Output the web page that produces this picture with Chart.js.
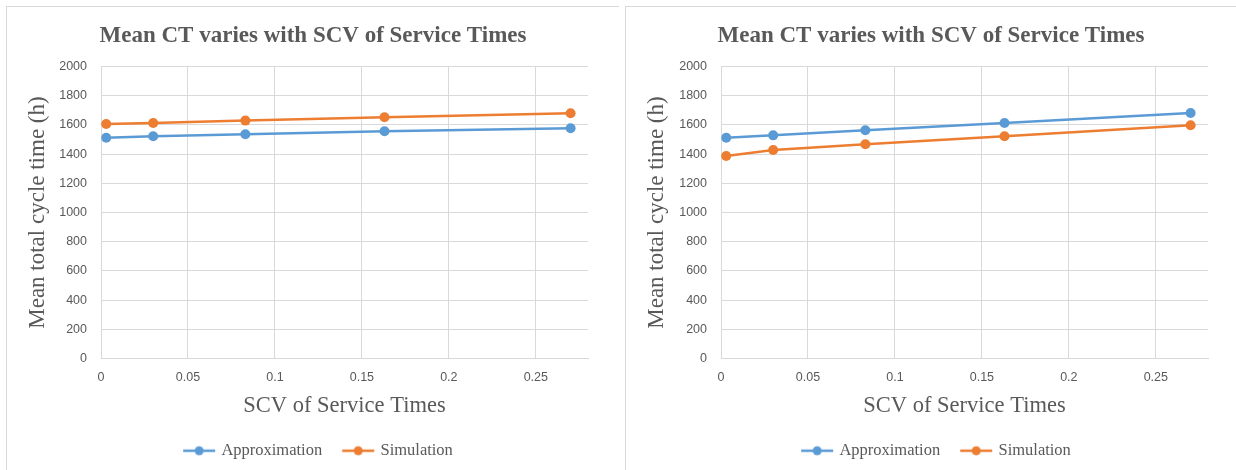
<!DOCTYPE html>
<html>
<head>
<meta charset="utf-8">
<script src="https://cdn.jsdelivr.net/npm/chart.js@4"></script>
<style>
  body { margin: 0; background: #fff; width: 1236px; height: 470px; overflow: hidden; position: relative; }
  .panel { position: absolute; top: 6px; height: 464px; border-left: 1px solid #d9d9d9; border-top: 1px solid #d9d9d9; }
  #leftPanel { left: 6px; width: 612px; }
  #rightPanel { left: 625px; width: 610px; }
</style>
</head>
<body>
<div class="panel" id="leftPanel"><canvas id="leftChart"></canvas></div>
<div class="panel" id="rightPanel"><canvas id="rightChart"></canvas></div>
<script>
// SCV of service times (x values, shared by both charts)
const scvValues = [0.003, 0.03, 0.083, 0.163, 0.27];

// left chart
const leftApproximation = [1513, 1523, 1536, 1557, 1577];
const leftSimulation = [1607, 1613, 1630, 1653, 1680];

// right chart
const rightApproximation = [1513, 1529, 1564, 1614, 1682];
const rightSimulation = [1387, 1429, 1468, 1523, 1598];

const seriesNames = ['Approximation', 'Simulation'];
const xTickStep = 0.05;
const xMax = 0.28;
const yTickStep = 200;
const yMax = 2000;

const chartTitle = 'Mean CT varies with SCV of Service Times';
const xTitle = 'SCV of Service Times';
const yTitle = 'Mean total cycle time (h)';

const blue = '#5b9bd5';
const orange = '#ed7d31';
const textGray = '#595959';
const gridGray = '#d9d9d9';

Chart.defaults.animation = false;

// line-with-dot marker for the legend; blank strip on the left spaces the items apart
function legendMarker(color) {
  const c = document.createElement('canvas');
  c.width = 48;
  c.height = 12;
  const g = c.getContext('2d');
  g.strokeStyle = color;
  g.lineWidth = 2.5;
  g.beginPath();
  g.moveTo(14, 6);
  g.lineTo(46, 6);
  g.stroke();
  g.fillStyle = color;
  g.beginPath();
  g.arc(30, 6, 4.5, 0, Math.PI * 2);
  g.fill();
  return c;
}
const markers = [legendMarker(blue), legendMarker(orange)];

function toPoints(values) {
  return scvValues.map((x, i) => ({ x: x, y: values[i] }));
}

function makeChart(canvasId, approx, sim, yAxisWidth, rightSpace) {
  return new Chart(document.getElementById(canvasId), {
    type: 'line',
    data: {
      datasets: [{
        label: seriesNames[0],
        data: toPoints(approx),
        borderColor: blue,
        backgroundColor: blue,
        borderWidth: 2.5,
        pointRadius: 5,
        pointBorderWidth: 0,
        tension: 0,
      }, {
        label: seriesNames[1],
        data: toPoints(sim),
        borderColor: orange,
        backgroundColor: orange,
        borderWidth: 2.5,
        pointRadius: 5,
        pointBorderWidth: 0,
        tension: 0,
      }]
    },
    options: {
      responsive: true,
      maintainAspectRatio: false,
      layout: {
        padding: { left: 0, right: 0, top: 0, bottom: 2 }
      },
      plugins: {
        title: {
          display: true,
          text: chartTitle,
          color: textGray,
          font: { family: 'Liberation Serif', size: 23, weight: 'bold' },
          padding: { top: 15, bottom: 17 }
        },
        legend: {
          position: 'bottom',
          labels: {
            color: textGray,
            font: { family: 'Liberation Serif', size: 16.5 },
            usePointStyle: true,
            pointStyleWidth: 40,
            boxHeight: 16,
            padding: 10,
            generateLabels: (chart) => {
              const items = Chart.defaults.plugins.legend.labels.generateLabels(chart);
              items.forEach((item, i) => { item.pointStyle = markers[i]; });
              return items;
            }
          }
        },
        tooltip: { enabled: false }
      },
      scales: {
        x: {
          type: 'linear',
          min: 0,
          max: xMax,
          afterBuildTicks: (axis) => {
            axis.ticks = axis.ticks.filter(t => Math.abs(t.value / xTickStep - Math.round(t.value / xTickStep)) < 1e-6);
          },
          afterFit: (scale) => { scale.height = 74; },
          ticks: {
            stepSize: xTickStep,
            color: textGray,
            font: { family: 'Liberation Sans', size: 12.5 },
            padding: 12,
            callback: (v) => String(Number(v.toFixed(3)))
          },
          grid: { color: gridGray, drawTicks: false },
          border: { color: gridGray },
          title: {
            display: true,
            text: xTitle,
            color: textGray,
            font: { family: 'Liberation Serif', size: 22.5 },
            padding: { top: 4, bottom: 13 }
          }
        },
        y: {
          min: 0,
          max: yMax,
          afterFit: (scale) => { scale.width = yAxisWidth; },
          ticks: {
            stepSize: yTickStep,
            color: textGray,
            font: { family: 'Liberation Sans', size: 12.5 },
            padding: 14,
            callback: (v) => String(v)
          },
          grid: { color: gridGray, drawTicks: false },
          border: { display: false },
          title: {
            display: true,
            text: yTitle,
            color: textGray,
            font: { family: 'Liberation Serif', size: 23 },
            padding: { top: 17, bottom: 0 }
          }
        },
        // empty right-hand axis that only reserves the space right of the plot
        yRight: {
          position: 'right',
          afterFit: (scale) => { scale.width = rightSpace; },
          ticks: { display: false },
          grid: { display: false, drawTicks: false },
          border: { display: false }
        }
      }
    }
  });
}

makeChart('leftChart', leftApproximation, leftSimulation, 94, 31);
makeChart('rightChart', rightApproximation, rightSimulation, 95, 28);
</script>
</body>
</html>
